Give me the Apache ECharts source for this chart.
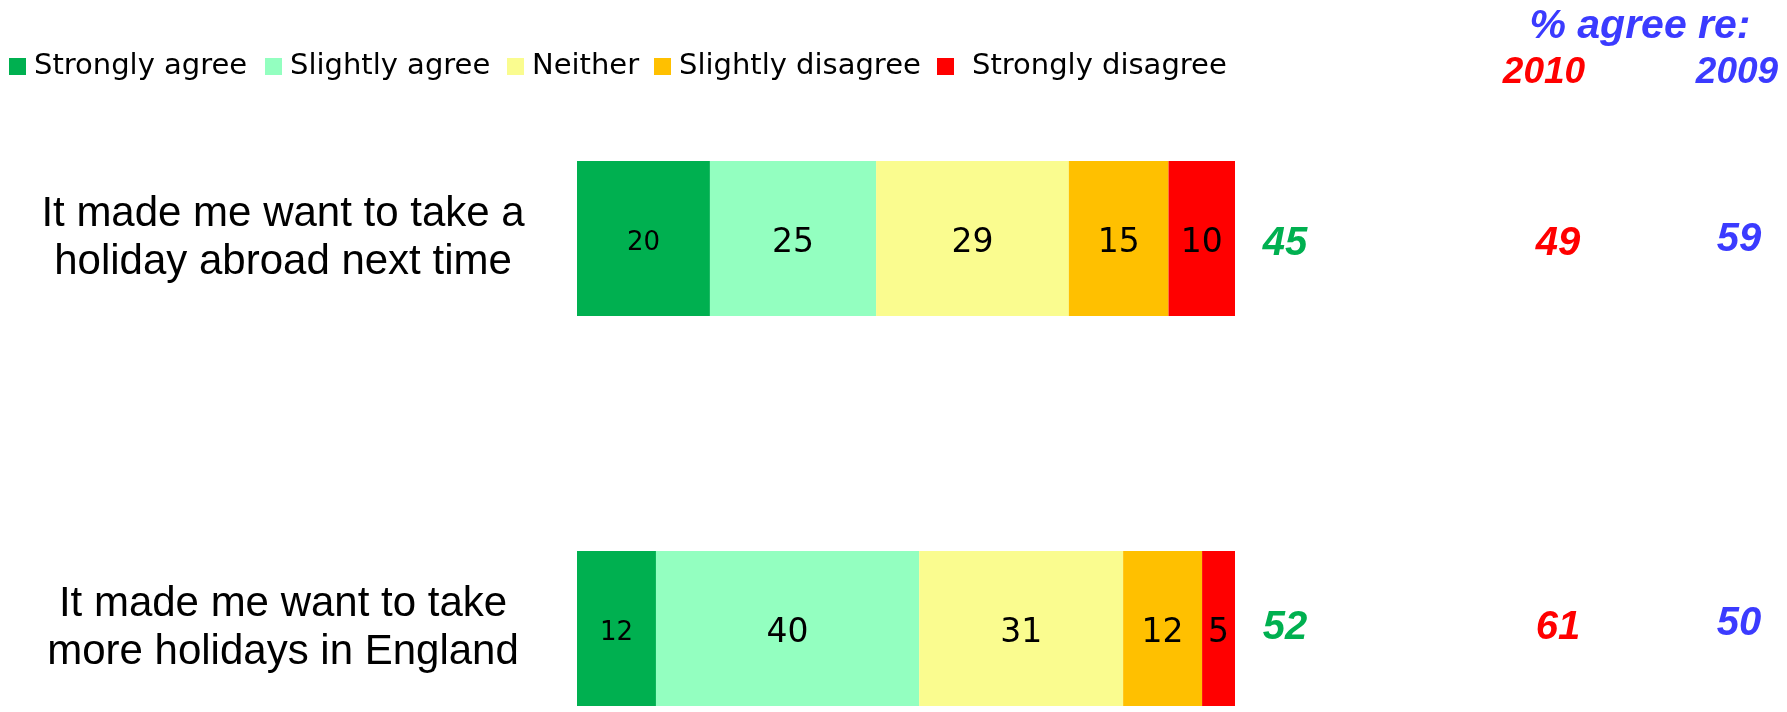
<!DOCTYPE html>
<html><head><meta charset="utf-8">
<script src="https://cdn.jsdelivr.net/npm/echarts@6/dist/echarts.min.js"></script>
<style>html,body{margin:0;padding:0;background:#fff}#c{width:1787px;height:712px}</style>
</head><body><div id="c"></div>
<script>
const categories = ['It made me want to take a\nholiday abroad next time', 'It made me want to take\nmore holidays in England'];
const seriesNames = ['Strongly agree', 'Slightly agree', 'Neither', 'Slightly disagree', 'Strongly disagree'];
const stronglyAgree = [20, 12];
const slightlyAgree = [25, 40];
const neither = [29, 31];
const slightlyDisagree = [15, 12];
const stronglyDisagree = [10, 5];
const agreeTotal = [45, 52];
const agree2010 = [49, 61];
const agree2009 = [59, 50];
const headerText = '% agree re:';
const yearLabels = ['2010', '2009'];

const segs = [stronglyAgree, slightlyAgree, neither, slightlyDisagree, stronglyDisagree];
const colors = ['#00B050', '#93FFC0', '#FAFC8F', '#FFC000', '#FF0000'];
const rowTotals = categories.map((_, i) => segs.reduce((s, a) => s + a[i], 0));

const barSeries = segs.map((arr, k) => ({
  name: seriesNames[k], type: 'bar', stack: 'all', xAxisIndex: 0, yAxisIndex: 0,
  barWidth: 155, clip: false,
  itemStyle: { color: colors[k] },
  label: { show: true, position: 'inside', offset: [0, 5], color: '#000', fontFamily: 'DejaVu Sans',
    fontSize: k === 0 ? 26 : 33, formatter: p => String(arr[p.dataIndex]) },
  data: arr.map((v, i) => v / rowTotals[i] * 100)
}));

const annCols = [
  { vals: agreeTotal, x: 9.06, color: '#00B050', dy: 2 },
  { vals: agree2010, x: 58.5, color: '#FF0000', dy: 2 },
  { vals: agree2009, x: 91.3, color: '#3B3BFF', dy: -2 }
];
const annSeries = annCols.map(c => ({
  type: 'scatter', xAxisIndex: 1, yAxisIndex: 1, symbolSize: 1, clip: false,
  itemStyle: { color: 'rgba(255,255,255,0)', opacity: 1 }, silent: true,
  label: { show: true, position: 'inside', offset: [0, c.dy], color: c.color, opacity: 1,
    fontFamily: 'Liberation Sans', fontWeight: 'bold', fontStyle: 'italic', fontSize: 40,
    formatter: p => String(p.value[2]) },
  data: c.vals.map((v, i) => [c.x, i, v])
}));

const legendLefts = [9, 265, 507, 654, 937];
const legends = seriesNames.map((n, k) => ({
  data: [n], left: legendLefts[k], top: 52, itemWidth: 17, itemHeight: 17, icon: 'rect',
  padding: 0, itemGap: 0, selectedMode: false,
  textStyle: { fontFamily: 'DejaVu Sans', fontSize: 29, color: '#000', padding: [0, 0, 0, k === 4 ? 13 : 3] }
}));

const chart = echarts.init(document.getElementById('c'), null, { renderer: 'canvas' });
chart.setOption({
  animation: false,
  backgroundColor: '#fff',
  legend: legends,
  grid: [
    { left: 577, right: 552, top: 238.5, bottom: 83.5 },
    { left: 1235, right: 0, top: 242, bottom: 86 }
  ],
  xAxis: [
    { type: 'value', gridIndex: 0, min: 0, max: 100, show: false },
    { type: 'value', gridIndex: 1, min: 0, max: 100, show: false }
  ],
  yAxis: [
    { type: 'category', gridIndex: 0, data: categories, inverse: true, boundaryGap: false,
      axisLine: { show: false }, axisTick: { show: false }, splitLine: { show: false },
      axisLabel: { show: true, align: 'center', margin: 294, fontFamily: 'Liberation Sans',
        fontSize: 42, lineHeight: 48, color: '#000', padding: [5, 0, 0, 0] } },
    { type: 'category', gridIndex: 1, data: categories, inverse: true, boundaryGap: false, show: false }
  ],
  graphic: [
    { type: 'text', x: 1640, y: 27, style: { text: headerText, fill: '#3B3BFF',
      font: 'italic bold 41px "Liberation Sans"', textAlign: 'center', textVerticalAlign: 'middle' } },
    { type: 'text', x: 1544, y: 73, style: { text: yearLabels[0], fill: '#FF0000',
      font: 'italic bold 37px "Liberation Sans"', textAlign: 'center', textVerticalAlign: 'middle' } },
    { type: 'text', x: 1737, y: 73, style: { text: yearLabels[1], fill: '#3B3BFF',
      font: 'italic bold 37px "Liberation Sans"', textAlign: 'center', textVerticalAlign: 'middle' } }
  ],
  series: barSeries.concat(annSeries)
});
</script>
</body></html>
